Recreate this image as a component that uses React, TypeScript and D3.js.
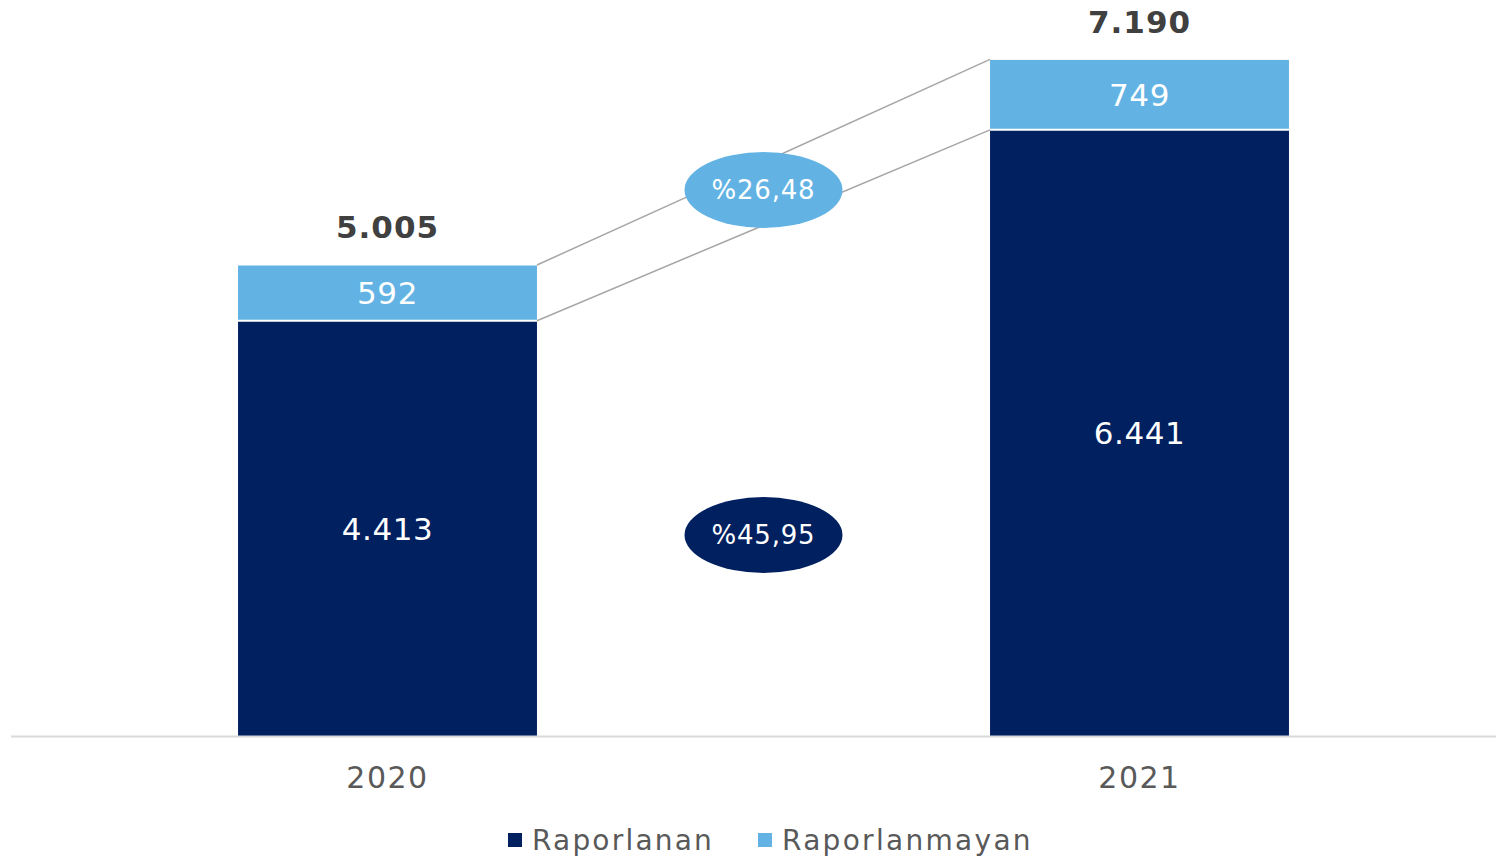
import React from "react";
import * as d3 from "d3";

const categories = ["2020", "2021"];
const raporlanan = [4413, 6441];
const raporlanmayan = [592, 749];
const totals = [5005, 7190];
const totalLabels = ["5.005", "7.190"];
const raporlananLabels = ["4.413", "6.441"];
const raporlanmayanLabels = ["592", "749"];
const growthRaporlanmayan = "%26,48";
const growthRaporlanan = "%45,95";
const legendLabels = ["Raporlanan", "Raporlanmayan"];

const W = 1496;
const H = 859;
const DARK = "#002060";
const LIGHT = "#62b3e4";
const FONT = "'DejaVu Sans', Verdana, sans-serif";

export default function App() {
  const x = d3.scaleBand<string>().domain(categories).range([11.5, 1515.5]).paddingInner(0.6025).paddingOuter(0.30125);
  const y = d3.scaleLinear().domain([0, 7821]).range([736, 0]);
  const bw = x.bandwidth();

  const x0 = x(categories[0])!;
  const x1 = x(categories[1])!;
  const midX = (x0 + bw + x1) / 2;

  return (
    <svg width={W} height={H} style={{ position: "absolute", left: 0, top: 0, background: "#fff" }} fontFamily={FONT}>
      {/* connector lines */}
      <line x1={x0 + bw} y1={y(totals[0])} x2={x1} y2={y(totals[1])} stroke="#a6a6a6" strokeWidth={1.5} />
      <line x1={x0 + bw} y1={y(raporlanan[0])} x2={x1} y2={y(raporlanan[1])} stroke="#a6a6a6" strokeWidth={1.5} />

      {categories.map((c, i) => {
        const bx = x(c)!;
        const yTop = y(totals[i]);
        const yMid = y(raporlanan[i]);
        return (
          <g key={c}>
            <rect x={bx} y={yMid} width={bw} height={y(0) - yMid} fill={DARK} />
            <rect x={bx} y={yTop} width={bw} height={yMid - yTop} fill={LIGHT} />
            <line x1={bx} x2={bx + bw} y1={yMid} y2={yMid} stroke="#fff" strokeWidth={2} />
            <line x1={bx} x2={bx + bw} y1={yTop} y2={yTop} stroke="#fff" strokeWidth={1} />
            <text x={bx + bw / 2} y={(yTop + yMid) / 2} dy="0.36em" textAnchor="middle" fill="#fff" fontSize={31} letterSpacing={0.6}>
              {raporlanmayanLabels[i]}
            </text>
            <text x={bx + bw / 2} y={(yMid + y(0)) / 2} dy="0.36em" textAnchor="middle" fill="#fff" fontSize={31} letterSpacing={0.6}>
              {raporlananLabels[i]}
            </text>
            <text x={bx + bw / 2} y={yTop - 38} dy="0.36em" textAnchor="middle" fill="#404040" fontSize={31} fontWeight="bold" letterSpacing={1}>
              {totalLabels[i]}
            </text>
            <text x={bx + bw / 2} y={777} dy="0.36em" textAnchor="middle" fill="#595959" fontSize={30} letterSpacing={1.5}>
              {c}
            </text>
          </g>
        );
      })}

      {/* axis */}
      <line x1={11} x2={W} y1={736.5} y2={736.5} stroke="#d9d9d9" strokeWidth={2} />

      {/* growth ellipses */}
      <ellipse cx={midX} cy={190} rx={79} ry={38} fill={LIGHT} />
      <text x={midX} y={190} dy="0.36em" textAnchor="middle" fill="#fff" fontSize={26} letterSpacing={0.8}>
        {growthRaporlanmayan}
      </text>
      <ellipse cx={midX} cy={535} rx={79} ry={38} fill={DARK} />
      <text x={midX} y={535} dy="0.36em" textAnchor="middle" fill="#fff" fontSize={26} letterSpacing={0.8}>
        {growthRaporlanan}
      </text>

      {/* legend */}
      <rect x={508} y={833} width={14} height={14} fill={DARK} />
      <text x={532} y={840} dy="0.36em" fill="#595959" fontSize={28} letterSpacing={2.2}>
        {legendLabels[0]}
      </text>
      <rect x={758} y={833} width={14} height={14} fill={LIGHT} />
      <text x={782} y={840} dy="0.36em" fill="#595959" fontSize={28} letterSpacing={2.3}>
        {legendLabels[1]}
      </text>
    </svg>
  );
}
